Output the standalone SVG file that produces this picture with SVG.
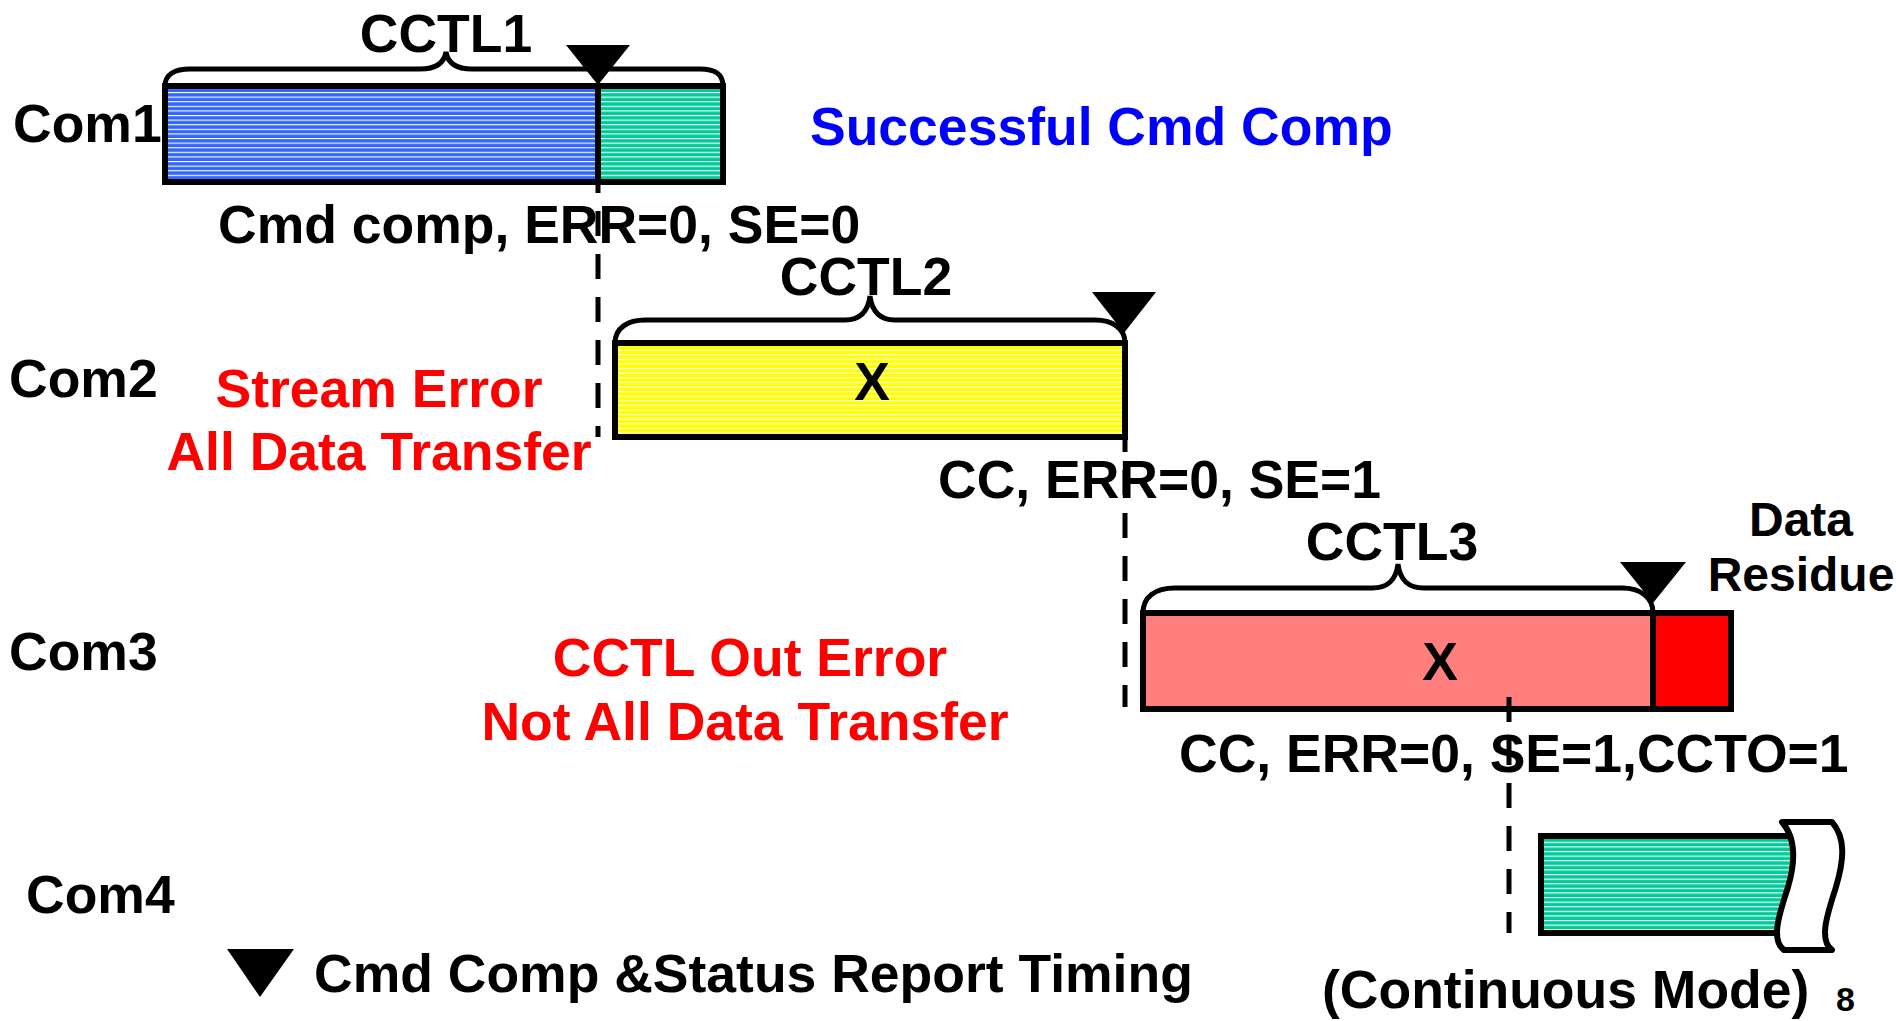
<svg xmlns="http://www.w3.org/2000/svg" width="1896" height="1021" viewBox="0 0 1896 1021">
<defs>
<pattern id="hBlue" patternUnits="userSpaceOnUse" width="10" height="4.6"><rect width="10" height="4.6" fill="#3366FF"/><rect y="0" width="10" height="1.1" fill="#FFFFFF"/></pattern>
<pattern id="hGreen" patternUnits="userSpaceOnUse" width="10" height="4.6"><rect width="10" height="4.6" fill="#00CC99"/><rect y="0" width="10" height="1.1" fill="#FFFFFF"/></pattern>
<pattern id="hYellow" patternUnits="userSpaceOnUse" width="10" height="4.6"><rect width="10" height="4.6" fill="#FFFF00"/><rect y="0" width="10" height="1.1" fill="#FFFFFF"/></pattern>
</defs>
<style>
text{font-family:"Liberation Sans",Arial,sans-serif;font-weight:bold;font-size:53.5px;fill:#000}
.blue{fill:#0000FF}
.red{fill:#FF0000}
.mid{text-anchor:middle}
.box{stroke:#000;stroke-width:6}
.brace{fill:none;stroke:#000;stroke-width:5}
.tri{fill:#000}
.dash{fill:none;stroke:#000;stroke-width:5;stroke-dasharray:25 18}
</style>

<g id="labels">
<text x="13" y="142">Com1</text>
<text x="9" y="397">Com2</text>
<text x="9" y="670">Com3</text>
<text x="26" y="913">Com4</text>
</g>

<g id="com1">
<path class="brace" d="M165 86 C165 74 175 69 190 69 L420 69 C435 69 444 64 446 52 C448 64 457 69 472 69 L700 69 C715 69 723 74 723 86"/>
<text class="mid" x="446" y="52">CCTL1</text>
<rect x="165" y="86" width="433" height="96" fill="url(#hBlue)"/>
<rect x="598" y="86" width="125" height="96" fill="url(#hGreen)"/>
<rect class="box" x="165" y="86" width="558" height="96" fill="none"/>
<line x1="598" y1="86" x2="598" y2="182" stroke="#000" stroke-width="6"/>
<polygon class="tri" points="566,45 630,45 598,85"/>
</g>

<g id="com1-note">
<text class="blue" x="810" y="145">Successful Cmd Comp</text>
<text x="218" y="243">Cmd comp, ERR=0, SE=0</text>
</g>

<g id="com2">
<path class="brace" d="M615 343 C615 328 628 320 645 320 L845 320 C860 320 868 312 870 296 C872 312 880 320 895 320 L1095 320 C1112 320 1125 328 1125 343"/>
<text class="mid" x="866" y="295">CCTL2</text>
<rect class="box" x="615" y="343" width="510" height="94" fill="url(#hYellow)"/>
<text class="mid" x="872" y="400">X</text>
<polygon class="tri" points="1092,292 1156,292 1124,333"/>
</g>

<g id="com2-note">
<text class="red mid" x="379" y="407">Stream Error</text>
<text class="red mid" x="379" y="470">All Data Transfer</text>
<text x="938" y="498">CC, ERR=0, SE=1</text>
</g>

<g id="com3">
<path class="brace" d="M1143 613 C1143 597 1155 588 1175 588 L1372 588 C1388 588 1396 580 1398 564 C1400 580 1408 588 1424 588 L1622 588 C1640 588 1653 597 1653 613"/>
<text class="mid" x="1392" y="560">CCTL3</text>
<rect class="box" x="1143" y="613" width="510" height="96" fill="#FF7F7F"/>
<rect class="box" x="1653" y="613" width="78" height="96" fill="#FF0000"/>
<text class="mid" x="1440" y="680">X</text>
<polygon class="tri" points="1620,562 1686,562 1653,603"/>
<text class="mid" x="1801" y="536" style="font-size:48px">Data</text>
<text class="mid" x="1801" y="591" style="font-size:48px">Residue</text>
</g>

<g id="com3-note">
<text class="red mid" x="750" y="676">CCTL Out Error</text>
<text class="red mid" x="745" y="740">Not All Data Transfer</text>
<text x="1179" y="772">CC, ERR=0, SE=1,CCTO=1</text>
</g>

<g id="com4">
<rect class="box" x="1541" y="836" width="264" height="97" fill="url(#hGreen)"/>
<path d="M1782 822 L1832 822 C1846 838 1844 860 1836 887 C1828 912 1818 940 1832 950 L1784 950 C1770 940 1780 912 1788 887 C1796 860 1796 838 1782 822 Z" fill="#FFFFFF" stroke="#000" stroke-width="6" stroke-linejoin="round"/>
<text x="1322" y="1008">(Continuous Mode)</text>
<text x="1836" y="1011" style="font-size:34px">8</text>
</g>

<g id="connectors">
<path class="dash" d="M598 168 L598 437"/>
<path class="dash" d="M1125 427 L1125 707"/>
<path class="dash" d="M1509 697 L1509 933"/>
</g>

<g id="legend">
<polygon class="tri" points="227,949 294,949 260,997"/>
<text x="314" y="992">Cmd Comp &amp;Status Report Timing</text>
</g>
</svg>
